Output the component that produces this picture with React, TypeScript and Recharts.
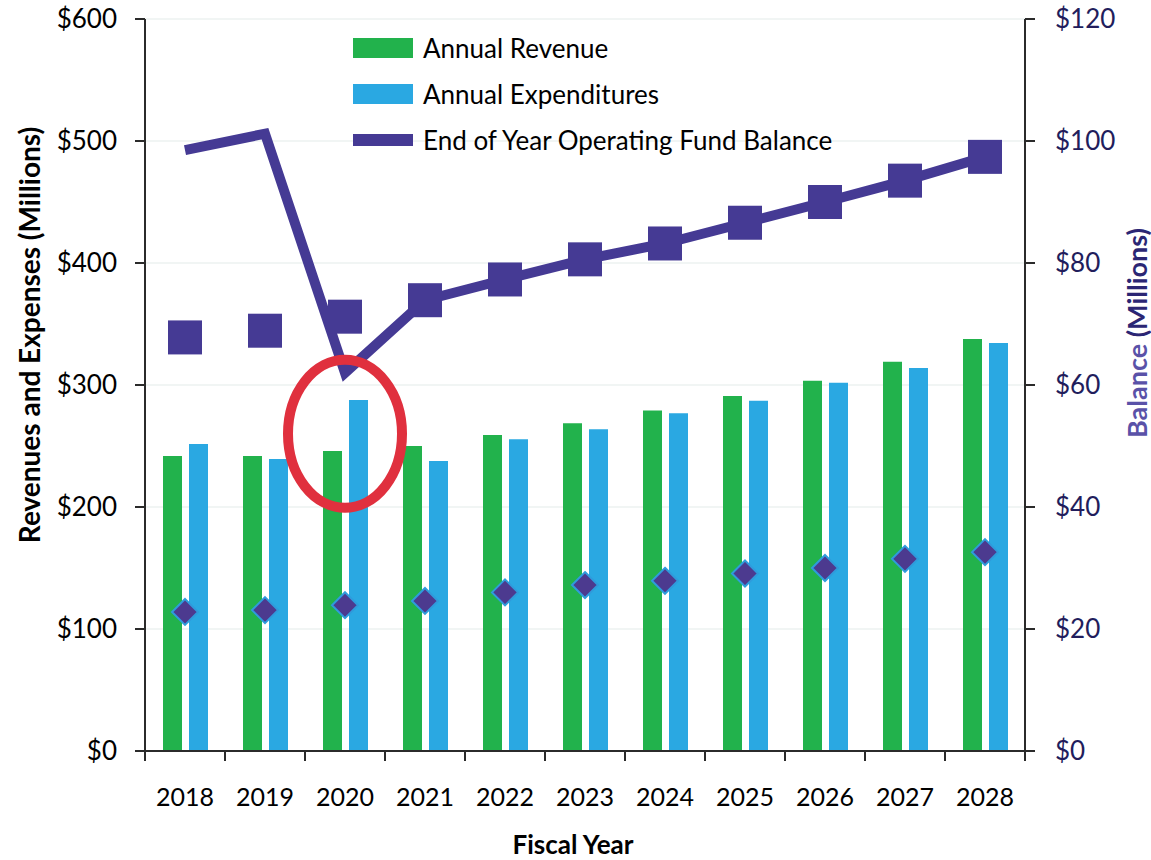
import React from 'react';
import {
  ComposedChart,
  Bar,
  Line,
  XAxis,
  YAxis,
  CartesianGrid,
  Legend,
  ReferenceDot,
  Label,
} from 'recharts';

// ---------- data ----------
const years = ['2018', '2019', '2020', '2021', '2022', '2023', '2024', '2025', '2026', '2027', '2028'];
const revenue = [241.8, 241.8, 245.9, 250, 259, 268.6, 279, 291, 303.5, 319, 337.7];
const expenditures = [251.6, 239.3, 287.7, 237.7, 255.5, 263.7, 276.8, 287, 301.9, 314, 334.4];
const balanceLine = [98.5, 101.2, 62, 73.9, 77.3, 80.6, 83.2, 86.6, 90.0, 93.5, 97.4];
const balanceSquares = [67.8, 68.9, 71.2, 73.9, 77.3, 80.6, 83.2, 86.6, 90.0, 93.5, 97.4];
const balanceDiamonds = [22.8, 23.1, 23.9, 24.6, 26.0, 27.2, 27.9, 29.1, 30.0, 31.5, 32.6];
const leftTicks = [0, 100, 200, 300, 400, 500, 600];
const rightTicks = [0, 20, 40, 60, 80, 100, 120];
const legendOrder = ['revenue', 'expenditures', 'balance'];
const highlightYear = '2020';
const highlightLevel = 260;

const data = years.map((year, i) => ({
  year,
  revenue: revenue[i],
  expenditures: expenditures[i],
  balance: balanceLine[i],
  squares: balanceSquares[i],
  diamonds: balanceDiamonds[i],
}));

// ---------- style ----------
const FONT = 'Lato, "Open Sans", sans-serif';
const GREEN = '#22b24c';
const BLUE = '#2aa8e2';
const PURPLE = '#453a94';
const DIAMOND_FILL = '#4c3a8f';
const DIAMOND_EDGE = '#2f9bdc';
const RED = '#e0303e';
const NAVY = '#221d5c';
const AXIS = '#2b2b2b';

const CHART_W = 1151;
const CHART_H = 860;
const LEFT_W = 145;
const RIGHT_W = 126;
const X_H = 109;
const TOP = 19;
const BAND = (CHART_W - LEFT_W - RIGHT_W) / years.length;
const X_TICK_SIZE = 10;
const X_TICK_MARGIN = 27;

const SquareDot = (props: any) => {
  const { cx, cy, index } = props;
  if (cx == null || cy == null) return <g key={`sq-${index}`} />;
  return <rect key={`sq-${index}`} x={cx - 17} y={cy - 17} width={34} height={34} fill={PURPLE} />;
};

const DiamondDot = (props: any) => {
  const { cx, cy, index } = props;
  if (cx == null || cy == null) return <g key={`dm-${index}`} />;
  const r = 13;
  return (
    <path
      key={`dm-${index}`}
      d={`M${cx},${cy - r} L${cx + r},${cy} L${cx},${cy + r} L${cx - r},${cy} Z`}
      fill={DIAMOND_FILL}
      stroke={DIAMOND_EDGE}
      strokeWidth={2}
    />
  );
};

const XTick = (props: any) => {
  const { x, y, payload, index, visibleTicksCount } = props;
  const axisY = y - X_TICK_SIZE - X_TICK_MARGIN;
  const half = BAND / 2;
  const last = index === (visibleTicksCount ?? years.length) - 1;
  return (
    <g>
      <line x1={x - half} x2={x - half} y1={axisY} y2={axisY + X_TICK_SIZE} stroke={AXIS} strokeWidth={2} />
      {last && (
        <line x1={x + half} x2={x + half} y1={axisY} y2={axisY + X_TICK_SIZE} stroke={AXIS} strokeWidth={2} />
      )}
      <text x={x} y={y} dy="0.71em" textAnchor="middle" fontSize={25} fill="#000" fontFamily={FONT}>
        {payload.value}
      </text>
    </g>
  );
};

const LegendContent = (props: any) => {
  const payload = (props.payload || [])
    .filter((e: any) => e.type !== 'none' && legendOrder.includes(e.dataKey))
    .slice()
    .sort((a: any, b: any) => legendOrder.indexOf(a.dataKey) - legendOrder.indexOf(b.dataKey));
  return (
    <div style={{ display: 'flex', flexDirection: 'column', fontFamily: FONT }}>
      {payload.map((e: any, i: number) => (
        <div key={i} style={{ display: 'flex', alignItems: 'center', height: 46 }}>
          <div
            style={{
              width: 60,
              height: e.type === 'line' ? 12 : 20,
              background: e.color,
              marginRight: 10,
            }}
          />
          <span style={{ fontSize: 26, color: '#000', lineHeight: '30px' }}>{e.value}</span>
        </div>
      ))}
    </div>
  );
};

const LeftTitle = (props: any) => {
  const vb = props.viewBox;
  const cx = vb.x + 29;
  const cy = vb.y + vb.height / 2 - 50;
  return (
    <text
      x={cx}
      y={cy}
      transform={`rotate(-90 ${cx} ${cy})`}
      textAnchor="middle"
      dominantBaseline="central"
      fontSize={28}
      fontWeight="bold"
      fill="#000"
      fontFamily={FONT}
    >
      Revenues and Expenses (Millions)
    </text>
  );
};

const RightTitle = (props: any) => {
  const vb = props.viewBox;
  const cx = vb.x + vb.width - 15;
  const cy = vb.y + vb.height / 2 - 52;
  return (
    <text
      x={cx}
      y={cy}
      transform={`rotate(-90 ${cx} ${cy})`}
      textAnchor="middle"
      dominantBaseline="central"
      fontSize={27}
      fontWeight="bold"
      fontFamily={FONT}
    >
      <tspan fill="#5a52a8">Balance </tspan>
      <tspan fill="#2b2674">(Millions)</tspan>
    </text>
  );
};

const XTitle = (props: any) => {
  const vb = props.viewBox;
  const cx = vb.x + vb.width / 2 - 12;
  const cy = vb.y + 93;
  return (
    <text
      x={cx}
      y={cy}
      textAnchor="middle"
      dominantBaseline="central"
      fontSize={26}
      fontWeight="bold"
      fill="#000"
      fontFamily={FONT}
    >
      Fiscal Year
    </text>
  );
};

const Ellipse = (props: any) => {
  const { cx, cy } = props;
  if (cx == null || cy == null) return null;
  return <ellipse cx={cx} cy={cy} rx={57} ry={74} fill="none" stroke={RED} strokeWidth={10} />;
};

export default function App() {
  return (
    <div style={{ position: 'absolute', left: 0, top: 0, width: CHART_W, height: CHART_H, background: '#fff', fontFamily: FONT }}>
      <ComposedChart
        width={CHART_W}
        height={CHART_H}
        data={data}
        margin={{ top: TOP, right: 0, bottom: 0, left: 0 }}
        barGap={7}
      >
        <CartesianGrid yAxisId="left" vertical={false} stroke="#edf2f1" strokeWidth={1.5} />
        <XAxis
          dataKey="year"
          height={X_H}
          axisLine={{ stroke: AXIS, strokeWidth: 2 }}
          tickLine={false}
          tickSize={X_TICK_SIZE}
          tickMargin={X_TICK_MARGIN}
          tick={<XTick />}
          interval={0}
        >
          <Label content={<XTitle />} />
        </XAxis>
        <YAxis
          yAxisId="left"
          orientation="left"
          width={LEFT_W}
          domain={[0, 600]}
          ticks={leftTicks}
          tickFormatter={(v: number) => `$${v}`}
          axisLine={{ stroke: AXIS, strokeWidth: 2 }}
          tickLine={{ stroke: AXIS, strokeWidth: 2 }}
          tickSize={10}
          tickMargin={18}
          tick={{ fontSize: 26, fill: '#000', fontFamily: FONT }}
        >
          <Label content={<LeftTitle />} />
        </YAxis>
        <YAxis
          yAxisId="right"
          orientation="right"
          width={RIGHT_W}
          domain={[0, 120]}
          ticks={rightTicks}
          tickFormatter={(v: number) => `$${v}`}
          axisLine={{ stroke: AXIS, strokeWidth: 2 }}
          tickLine={{ stroke: AXIS, strokeWidth: 2 }}
          tickSize={10}
          tickMargin={20}
          tick={{ fontSize: 26, fill: NAVY, fontFamily: FONT }}
        >
          <Label content={<RightTitle />} />
        </YAxis>
        <Legend
          layout="vertical"
          align="center"
          verticalAlign="middle"
          itemSorter={null as any}
          content={<LegendContent />}
          wrapperStyle={{ position: 'absolute', left: 353, top: 25, width: 'auto', height: 'auto' }}
        />
        <Bar yAxisId="left" dataKey="revenue" name="Annual Revenue" fill={GREEN} barSize={19} isAnimationActive={false} />
        <Bar yAxisId="left" dataKey="expenditures" name="Annual Expenditures" fill={BLUE} barSize={19} isAnimationActive={false} />
        <Line
          yAxisId="right"
          dataKey="balance"
          name="End of Year Operating Fund Balance"
          stroke={PURPLE}
          strokeWidth={10}
          dot={false}
          activeDot={false}
          isAnimationActive={false}
        />
        <Line
          yAxisId="right"
          dataKey="squares"
          name="Balance markers"
          stroke="none"
          legendType="none"
          dot={<SquareDot />}
          activeDot={false}
          isAnimationActive={false}
        />
        <Line
          yAxisId="right"
          dataKey="diamonds"
          name="Diamond markers"
          stroke="none"
          legendType="none"
          dot={<DiamondDot />}
          activeDot={false}
          isAnimationActive={false}
        />
        <ReferenceDot
          yAxisId="left"
          x={highlightYear}
          y={highlightLevel}
          ifOverflow="visible"
          shape={<Ellipse />}
        />
      </ComposedChart>
    </div>
  );
}
